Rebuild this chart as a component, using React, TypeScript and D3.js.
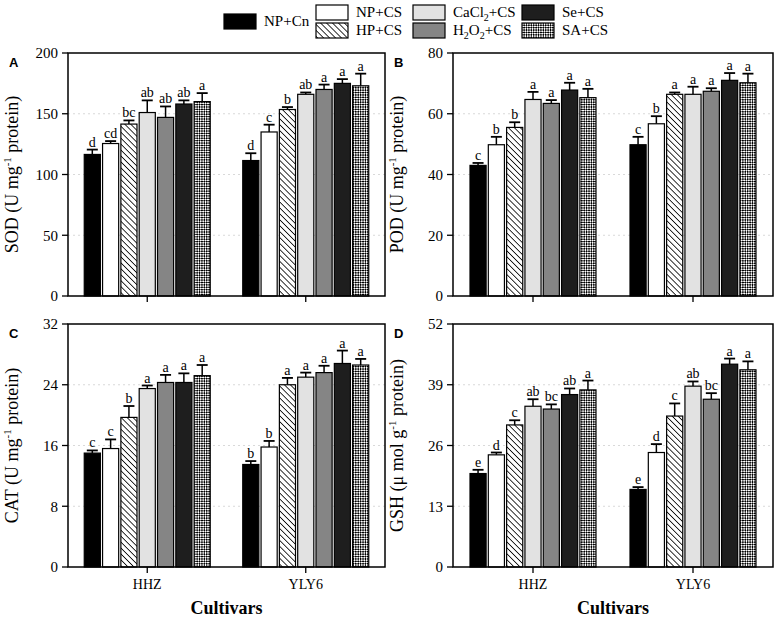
import React from "react";
import * as d3 from "d3";

const cultivars = ["HHZ", "YLY6"];
const treatments = ["NP+Cn", "NP+CS", "HP+CS", "CaCl2+CS", "H2O2+CS", "Se+CS", "SA+CS"];

const sodMeans = [[116.5, 125.5, 141.5, 151, 147, 158, 160], [111.5, 135, 153.5, 166, 170, 175, 173]];
const sodErr = [[4, 2, 3, 10, 9, 3, 7], [6, 6, 2, 1.5, 4, 3.5, 10]];
const sodLetters = [["d", "cd", "bc", "ab", "ab", "ab", "a"], ["d", "c", "b", "ab", "a", "a", "a"]];
const sodTicks = [0, 50, 100, 150, 200];

const podMeans = [[43, 49.8, 55.5, 64.7, 63.4, 67.8, 65.3], [49.8, 56.7, 66.4, 66.4, 67.4, 71, 70.2]];
const podErr = [[0.8, 2.6, 1.7, 2.5, 1.1, 2.4, 2.9], [2.6, 2.5, 0.6, 2.5, 1, 2.4, 3]];
const podLetters = [["c", "b", "b", "a", "a", "a", "a"], ["c", "b", "a", "a", "a", "a", "a"]];
const podTicks = [0, 20, 40, 60, 80];

const catMeans = [[15, 15.6, 19.7, 23.5, 24.3, 24.3, 25.2], [13.5, 15.8, 24, 25, 25.6, 26.8, 26.6]];
const catErr = [[0.35, 1.2, 1.5, 0.4, 1, 1.2, 1.4], [0.45, 0.8, 0.9, 0.6, 0.9, 1.7, 0.8]];
const catLetters = [["c", "c", "b", "a", "a", "a", "a"], ["b", "b", "a", "a", "a", "a", "a"]];
const catTicks = [0, 8, 16, 24, 32];

const gshMeans = [[20, 24, 30.4, 34.4, 33.8, 36.9, 37.9], [16.6, 24.5, 32.3, 38.7, 35.9, 43.4, 42.2]];
const gshErr = [[0.8, 0.5, 1, 1.5, 1, 1.3, 2], [0.5, 1.8, 2.7, 1, 1.3, 1.2, 1.8]];
const gshLetters = [["e", "d", "c", "ab", "bc", "ab", "a"], ["e", "d", "c", "ab", "bc", "a", "a"]];
const gshTicks = [0, 13, 26, 39, 52];

const fills = ["#000000", "#ffffff", "url(#hatch)", "#e2e2e2", "#858585", "#1e1e1e", "url(#check)"];
const serif = "'Liberation Serif', 'Times New Roman', 'DejaVu Serif', serif";

type PanelSpec = {
  tag: string;
  yTitle: string;
  yUnit: string;
  means: number[][];
  errs: number[][];
  letters: string[][];
  ticks: number[];
  left: number;
  right: number;
  top: number;
  bottom: number;
  showX: boolean;
};

const panels: PanelSpec[] = [
  { tag: "A", yTitle: "SOD (U mg", yUnit: " protein)", means: sodMeans, errs: sodErr, letters: sodLetters, ticks: sodTicks, left: 68, right: 385, top: 53, bottom: 296, showX: false },
  { tag: "B", yTitle: "POD (U mg", yUnit: " protein)", means: podMeans, errs: podErr, letters: podLetters, ticks: podTicks, left: 453, right: 773, top: 53, bottom: 296, showX: false },
  { tag: "C", yTitle: "CAT (U mg", yUnit: " protein)", means: catMeans, errs: catErr, letters: catLetters, ticks: catTicks, left: 68, right: 385, top: 324, bottom: 567, showX: true },
  { tag: "D", yTitle: "GSH (\u03bc mol g", yUnit: " protein)", means: gshMeans, errs: gshErr, letters: gshLetters, ticks: gshTicks, left: 453, right: 773, top: 324, bottom: 567, showX: true },
];

function Panel({ p }: { p: PanelSpec }) {
  const y = d3.scaleLinear().domain([0, p.ticks[p.ticks.length - 1]]).range([p.bottom, p.top]);
  const xc = d3.scalePoint<string>().domain(cultivars).range([p.left, p.right]).padding(0.5);
  const inner = d3.scaleBand<string>().domain(treatments).range([-63, 63]).paddingInner(0.12);
  const bw = inner.bandwidth();
  const cap = 11;
  const cy = (p.top + p.bottom) / 2;
  const titleX = p.left - 50;
  return (
    <g>
      {p.ticks.slice(1, -1).map((t) => (
        <line key={"g" + t} x1={p.left} x2={p.right} y1={y(t)} y2={y(t)} stroke="#cfcfcf" strokeWidth={0.8} strokeDasharray="2,3" />
      ))}
      {cultivars.map((c, ci) =>
        treatments.map((tr, ti) => {
          const v = p.means[ci][ti];
          const e = p.errs[ci][ti];
          const x = (xc(c) as number) + (inner(tr) as number);
          const mid = x + bw / 2;
          return (
            <g key={c + tr}>
              <line x1={mid} x2={mid} y1={y(v)} y2={y(v + e)} stroke="#000" strokeWidth={1.5} />
              <line x1={mid - cap / 2} x2={mid + cap / 2} y1={y(v + e)} y2={y(v + e)} stroke="#000" strokeWidth={1.8} />
              <rect x={x} y={y(v)} width={bw} height={p.bottom - y(v)} fill={fills[ti]} stroke="#000" strokeWidth={1.2} />
              <text x={mid} y={y(v + e) - 3} textAnchor="middle" fontFamily={serif} fontSize={14} fill="#000">{p.letters[ci][ti]}</text>
            </g>
          );
        })
      )}
      <rect x={p.left} y={p.top} width={p.right - p.left} height={p.bottom - p.top} fill="none" stroke="#000" strokeWidth={1.5} />
      {p.ticks.map((t) => (
        <g key={"t" + t}>
          <line x1={p.left - 6} x2={p.left} y1={y(t)} y2={y(t)} stroke="#000" strokeWidth={1.3} />
          <text x={p.left - 10} y={y(t)} dy="0.35em" textAnchor="end" fontFamily={serif} fontSize={15}>{t}</text>
        </g>
      ))}
      {cultivars.map((c) => (
        <g key={"x" + c}>
          <line x1={xc(c) as number} x2={xc(c) as number} y1={p.bottom} y2={p.bottom + 6} stroke="#000" strokeWidth={1.3} />
          {p.showX && (
            <text x={xc(c) as number} y={p.bottom + 22} textAnchor="middle" fontFamily={serif} fontSize={14}>{c}</text>
          )}
        </g>
      ))}
      {p.showX && (
        <text x={(p.left + p.right) / 2} y={614} textAnchor="middle" style={{ fontFamily: serif, fontSize: "18px", fontWeight: 700 }}>Cultivars</text>
      )}
      <text transform={`translate(${titleX},${cy}) rotate(-90)`} textAnchor="middle" fontFamily={serif} fontSize={18}>
        {p.yTitle}
        <tspan dy={-7} fontSize={11}>-1</tspan>
        <tspan dy={7}>{p.yUnit}</tspan>
      </text>
      <text x={p.left - 59} y={p.top + 14} fontFamily="'Liberation Sans', Arial, sans-serif" fontWeight="bold" fontSize={13}>{p.tag}</text>
    </g>
  );
}

function LegendLabel({ name }: { name: string }) {
  if (name === "CaCl2+CS")
    return (<>CaCl<tspan dy={4} fontSize={10}>2</tspan><tspan dy={-4}>+CS</tspan></>);
  if (name === "H2O2+CS")
    return (<>H<tspan dy={4} fontSize={10}>2</tspan><tspan dy={-4}>O</tspan><tspan dy={4} fontSize={10}>2</tspan><tspan dy={-4}>+CS</tspan></>);
  return <>{name}</>;
}

const legendCols = [0, 1, 1, 2, 2, 3, 3];
const legendRows = [0.5, 0, 1, 0, 1, 0, 1];

export default function App() {
  const colX = [224, 316, 413, 522];
  return (
    <svg width={777} height={625} style={{ position: "absolute", left: 0, top: 0, background: "#fff" }}>
      <defs>
        <pattern id="hatch" patternUnits="userSpaceOnUse" width={4.2} height={4.2} patternTransform="rotate(-45)">
          <rect width={4.2} height={4.2} fill="#fff" />
          <line x1={0} y1={0} x2={0} y2={4.2} stroke="#000" strokeWidth={1.6} />
        </pattern>
        <pattern id="check" patternUnits="userSpaceOnUse" width={3.4} height={3.4} patternTransform="rotate(45)">
          <rect width={3.4} height={3.4} fill="#fff" />
          <rect width={1.7} height={1.7} fill="#000" />
          <rect x={1.7} y={1.7} width={1.7} height={1.7} fill="#000" />
        </pattern>
      </defs>
      <rect width={777} height={625} fill="#fff" />
      {treatments.map((t, i) => {
        const x = colX[legendCols[i]];
        const yTop = 5 + legendRows[i] * 18;
        return (
          <g key={t}>
            <rect x={x} y={yTop} width={32} height={15} fill={fills[i]} stroke="#000" strokeWidth={1.2} />
            <text x={x + 40} y={yTop + 12} fontFamily={serif} fontSize={15}><LegendLabel name={t} /></text>
          </g>
        );
      })}
      {panels.map((p) => <Panel key={p.tag} p={p} />)}
    </svg>
  );
}
